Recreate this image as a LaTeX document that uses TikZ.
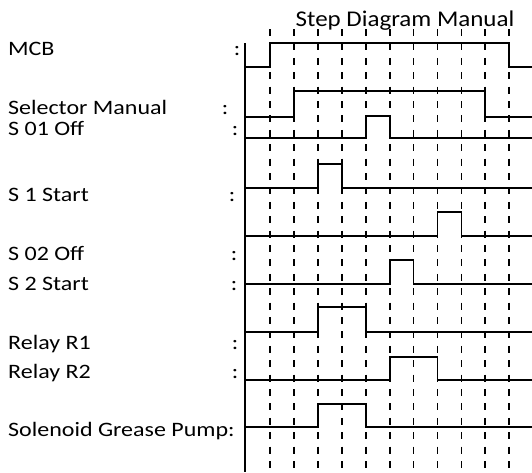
\documentclass[tikz,border=0pt]{standalone}
\usepackage{fontspec}
\setmainfont{Carlito}
\newfontfamily\lblfont[FakeStretch=1.17]{Carlito}
\newfontfamily\ttlfont[FakeStretch=1.11]{Carlito}
\begin{document}
\begin{tikzpicture}[x=1pt,y=-1pt,
  lbl/.style={font=\lblfont\fontsize{20.5}{24}\selectfont,inner sep=0pt,anchor=base west},
  colon/.style={font=\lblfont\fontsize{20.5}{24}\selectfont,inner sep=0pt,anchor=base},
  wave/.style={line width=1.8pt,line join=miter},
  grid/.style={line width=1.8pt,dash pattern=on 7pt off 7.4pt}]
\useasboundingbox (0,0) rectangle (532,472);
% title
\node[font=\ttlfont\fontsize{22.5}{26}\selectfont,inner sep=0pt,anchor=base] (title) at (405,26) {Step Diagram Manual};
% dashed step lines
\foreach \i in {0,...,10}{
  \draw[grid] ({270+23.93*\i},29) -- ({270+23.93*\i},472);
}
% left axis
\draw[wave] (245,43) -- (245,472);
% labels
\node[lbl] (l1) at (8,55.7) {MCB};
\node[colon] (c1) at (237,55.7) {:};
\node[lbl] (l2) at (8,114) {Selector Manual};
\node[colon] (c2) at (225,114) {:};
\node[lbl] (l3) at (8,135) {S 01 Off};
\node[colon] (c3) at (235,135) {:};
\node[lbl] (l4) at (8,201.7) {S 1 Start};
\node[colon] (c4) at (232,201.7) {:};
\node[lbl] (l5) at (8,260.7) {S 02 Off};
\node[colon] (c5) at (234,260.7) {:};
\node[lbl] (l6) at (8,290) {S 2 Start};
\node[colon] (c6) at (234,290) {:};
\node[lbl] (l7) at (8,349.3) {Relay R1};
\node[colon] (c7) at (235,349.3) {:};
\node[lbl] (l8) at (8,378.3) {Relay R2};
\node[colon] (c8) at (235,378.3) {:};
\node[lbl] (l9) at (8,436.7) {Solenoid Grease Pump:};
% waveforms: t_i = 270 + 23.93 i
\def\t#1{{270+23.93*#1}}
\draw[wave] (245,66.7) -- (\t0,66.7) -- (\t0,43.3) -- (\t{10},43.3) -- (\t{10},66.7) -- (532,66.7);
\draw[wave] (245,116.7) -- (\t1,116.7) -- (\t1,91) -- (\t9,91) -- (\t9,116.7) -- (532,116.7);
\draw[wave] (245,137.7) -- (\t4,137.7) -- (\t4,115.7) -- (\t5,115.7) -- (\t5,137.7) -- (532,137.7);
\draw[wave] (245,188.3) -- (\t2,188.3) -- (\t2,164.3) -- (\t3,164.3) -- (\t3,188.3) -- (532,188.3);
\draw[wave] (245,235.7) -- (\t7,235.7) -- (\t7,211.7) -- (\t8,211.7) -- (\t8,235.7) -- (532,235.7);
\draw[wave] (245,284.3) -- (\t5,284.3) -- (\t5,260) -- (\t6,260) -- (\t6,284.3) -- (532,284.3);
\draw[wave] (245,332) -- (\t2,332) -- (\t2,307.3) -- (\t4,307.3) -- (\t4,332) -- (532,332);
\draw[wave] (245,380) -- (\t5,380) -- (\t5,356.7) -- (\t7,356.7) -- (\t7,380) -- (532,380);
\draw[wave] (245,427.3) -- (\t2,427.3) -- (\t2,404) -- (\t4,404) -- (\t4,427.3) -- (532,427.3);
\end{tikzpicture}
\end{document}
